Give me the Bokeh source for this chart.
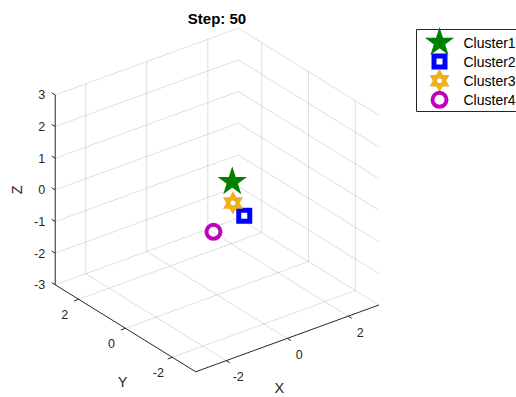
import numpy as np
from bokeh.plotting import figure
from bokeh.models import Range1d
from bokeh.embed import file_html
from bokeh.resources import INLINE
from bokeh.core.properties import value

# ---- data -------------------------------------------------------------
step = 50
cluster_names = ["Cluster1", "Cluster2", "Cluster3", "Cluster4"]
cluster_x = [0.5, 1.2, 0.6, -0.5]
cluster_y = [0.0, 0.4, 0.1, -0.5]
cluster_z = [0.4, -1.1, -0.35, -0.6]
cluster_colors = ["#008000", "#0000FF", "#EDB120", "#BF00BF"]

axis_lim = [-3, 3]
xy_ticks = [-2, 0, 2]
z_ticks = [-3, -2, -1, 0, 1, 2, 3]

# ---- 3-D view (orthographic, MATLAB default az/el) ---------------------
AZ = np.deg2rad(-37.5)
EL = np.deg2rad(30.0)
SCALE = 38.46          # px per data unit
SQUASH = 0.95          # vertical aspect of the plot box
ORIGIN = (216.5, 197.5)

W, H = 516, 397
FONT = value("Liberation Sans")
AX_COLOR = "#262626"


def project(x, y, z):
    x, y, z = (np.asarray(v, dtype=float) for v in (x, y, z))
    u = np.cos(AZ) * x + np.sin(AZ) * y
    w = -np.sin(EL) * np.sin(AZ) * x + np.sin(EL) * np.cos(AZ) * y + np.cos(EL) * z
    return ORIGIN[0] + SCALE * u, ORIGIN[1] + SCALE * SQUASH * w


def seg(p0, p1):
    a = project(*p0)
    b = project(*p1)
    return [float(a[0]), float(b[0])], [float(a[1]), float(b[1])]


lo, hi = axis_lim

p = figure(width=W, height=H, x_range=Range1d(0, W), y_range=Range1d(0, H),
           output_backend="svg", toolbar_location=None,
           x_axis_location=None, y_axis_location=None, min_border=0)
p.grid.visible = False
p.outline_line_color = None
p.title.visible = False
p.background_fill_color = "white"
p.border_fill_color = "white"

# ---- grid on the back walls and the floor ------------------------------
gxs, gys = [], []
for t in xy_ticks:
    # wall y = hi : verticals at x ticks
    a, b = seg((t, hi, lo), (t, hi, hi)); gxs.append(a); gys.append(b)
    # wall x = hi : verticals at y ticks
    a, b = seg((hi, t, lo), (hi, t, hi)); gxs.append(a); gys.append(b)
    # floor lines
    a, b = seg((t, lo, lo), (t, hi, lo)); gxs.append(a); gys.append(b)
    a, b = seg((lo, t, lo), (hi, t, lo)); gxs.append(a); gys.append(b)
for t in z_ticks:
    a, b = seg((lo, hi, t), (hi, hi, t)); gxs.append(a); gys.append(b)
    a, b = seg((hi, lo, t), (hi, hi, t)); gxs.append(a); gys.append(b)
p.multi_line(gxs, gys, line_color=AX_COLOR, line_alpha=0.15, line_width=1)

# ---- axis lines ---------------------------------------------------------
axs, ays = [], []
for a0, a1 in [((lo, lo, lo), (hi, lo, lo)),      # x axis
               ((lo, lo, lo), (lo, hi, lo)),      # y axis
               ((lo, hi, lo), (lo, hi, hi))]:     # z axis
    a, b = seg(a0, a1); axs.append(a); ays.append(b)

TL = 0.15
for t in xy_ticks:
    a, b = seg((t, lo, lo), (t, lo - TL, lo)); axs.append(a); ays.append(b)
    a, b = seg((lo, t, lo), (lo - TL, t, lo)); axs.append(a); ays.append(b)
for t in z_ticks:
    a, b = seg((lo, hi, t), (lo, hi + TL, t)); axs.append(a); ays.append(b)
p.multi_line(axs, ays, line_color=AX_COLOR, line_width=1)

# ---- tick labels --------------------------------------------------------
def fmt(v):
    return str(int(v))

tx, ty = project(xy_ticks, [lo] * 3, [lo] * 3)
p.text(x=tx + 12, y=ty - 16, text=[fmt(t) for t in xy_ticks], text_font=FONT,
       text_font_size="12.5px", text_color=AX_COLOR,
       text_align="center", text_baseline="middle")
tx, ty = project([lo] * 3, xy_ticks, [lo] * 3)
p.text(x=tx - 14, y=ty - 15, text=[fmt(t) for t in xy_ticks], text_font=FONT,
       text_font_size="12.5px", text_color=AX_COLOR,
       text_align="center", text_baseline="middle")
tx, ty = project([lo] * len(z_ticks), [hi] * len(z_ticks), z_ticks)
p.text(x=tx - 10, y=ty, text=[fmt(t) for t in z_ticks], text_font=FONT,
       text_font_size="12.5px", text_color=AX_COLOR,
       text_align="right", text_baseline="middle")

# ---- axis labels and title ---------------------------------------------
lx, ly = project([0], [lo], [lo])
p.text(x=lx - 8, y=ly - 50, text=["X"], text_font=FONT, text_font_size="14.5px",
       text_color=AX_COLOR, text_align="center", text_baseline="middle")
lx, ly = project([lo], [0], [lo])
p.text(x=lx - 3, y=ly - 54, text=["Y"], text_font=FONT, text_font_size="14.5px",
       text_color=AX_COLOR, text_align="center", text_baseline="middle")
lx, ly = project([lo], [hi], [0])
p.text(x=lx - 38, y=ly, text=["Z"], angle=np.pi / 2, text_font=FONT,
       text_font_size="14.5px", text_color=AX_COLOR,
       text_align="center", text_baseline="middle")
p.text(x=[ORIGIN[0]], y=[H - 18], text=[f"Step: {step}"], text_font=FONT,
       text_font_size="15px", text_font_style="bold", text_color="#000000",
       text_align="center", text_baseline="middle")


# ---- cluster markers -----------------------------------------------------
def draw_marker(kind, x, y, color):
    if kind == "pentagram":
        p.scatter(x, y, marker="star", size=26, fill_color=color,
                  line_color=color, line_width=1.5, line_join="miter")
    elif kind == "square":
        p.scatter(x, y, marker="square", size=11, fill_color=None,
                  line_color=color, line_width=5, line_join="miter")
    elif kind == "hexagram":
        for m in ("triangle", "inverted_triangle"):
            p.scatter(x, y, marker=m, size=14, fill_color=None,
                      line_color=color, line_width=3.5, line_join="miter")
    else:
        p.scatter(x, y, marker="circle", size=14, fill_color=None,
                  line_color=color, line_width=4)


kinds = ["pentagram", "square", "hexagram", "circle"]
px, py = project(cluster_x, cluster_y, cluster_z)
for k, xx, yy, c in zip(kinds, px, py, cluster_colors):
    draw_marker(k, [float(xx)], [float(yy)], c)

# ---- legend ---------------------------------------------------------------
LEG_LEFT, LEG_TOP, LEG_BOTTOM = 416, H - 29, H - 111
p.quad(left=[LEG_LEFT], right=[W + 60], top=[LEG_TOP], bottom=[LEG_BOTTOM],
       fill_color="white", line_color=AX_COLOR, line_width=1)
row_y = [H - 42 - 19.1 * i for i in range(len(cluster_names))]
for k, yy, c in zip(kinds, row_y, cluster_colors):
    draw_marker(k, [439], [yy], c)
p.text(x=[463] * len(cluster_names), y=row_y, text=cluster_names, text_font=FONT,
       text_font_size="14px", text_color="#000000",
       text_align="left", text_baseline="middle")

open("out.html", "w").write(file_html(p, INLINE))
